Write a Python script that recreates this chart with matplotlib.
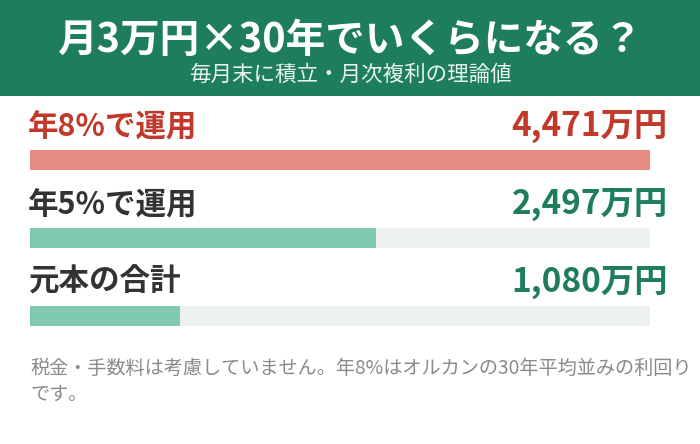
import matplotlib
matplotlib.use('Agg')
import matplotlib.pyplot as plt
from matplotlib.patches import Rectangle

plt.rcParams['font.family'] = ['Noto Sans CJK JP', 'DejaVu Sans']

title = '月3万円\u00d730年でいくらになる\uff1f'
subtitle = '毎月末に積立・月次複利の理論値'
labels = ['年8%で運用', '年5%で運用', '元本の合計']
values = [4471, 2497, 1080]
value_texts = ['4,471万円', '2,497万円', '1,080万円']
label_colors = ['#c0392b', '#333333', '#333333']
value_colors = ['#c0392b', '#1e7d5f', '#1e7d5f']
bar_colors = ['#e58b80', '#80c9ae', '#80c9ae']
note = '税金・手数料は考慮していません。年8%はオルカンの30年平均並みの利回り\nです。'

W, H = 700, 444
fig = plt.figure(figsize=(W / 100, H / 100), dpi=100)

# full-figure axes in pixel coords for header and text
bg = fig.add_axes([0, 0, 1, 1])
bg.set_xlim(0, W)
bg.set_ylim(H, 0)
bg.axis('off')
bg.add_patch(Rectangle((0, 0), W, 96, color='#1e7d5f', lw=0))
bg.text(W / 2, 40, title, ha='center', va='center', color='white',
        fontsize=28.5, fontweight='bold')
bg.text(W / 2, 75, subtitle, ha='center', va='center', color='#eaf4f0',
        fontsize=15.5)

# bar axes: x 30..650 px, y 100..340 px
x0, x1, y0, y1 = 30, 650, 100, 340
ax = fig.add_axes([x0 / W, 1 - y1 / H, (x1 - x0) / W, (y1 - y0) / H])
ax.set_xlim(0, max(values))
ax.set_ylim(y1, y0)
ax.axis('off')

vmax = max(values)
for i, (lab, v, vt) in enumerate(zip(labels, values, value_texts)):
    yb = 160 + 78 * i
    ax.barh(yb, vmax, height=20, left=0, color='#edf1f0', lw=0)
    ax.barh(yb, v, height=20, left=0, color=bar_colors[i], lw=0)
    bg.text(x0 - 2, yb - 34, lab, ha='left', va='center', color=label_colors[i],
            fontsize=22, fontweight='bold')
    bg.text(668, yb - 34, vt, ha='right', va='center', color=value_colors[i],
            fontsize=24, fontweight='bold')

bg.text(30, 382, note, ha='left', va='center', color='#8a8a8a',
        fontsize=13.8, linespacing=1.4)

fig.savefig('out.png', dpi=100)
